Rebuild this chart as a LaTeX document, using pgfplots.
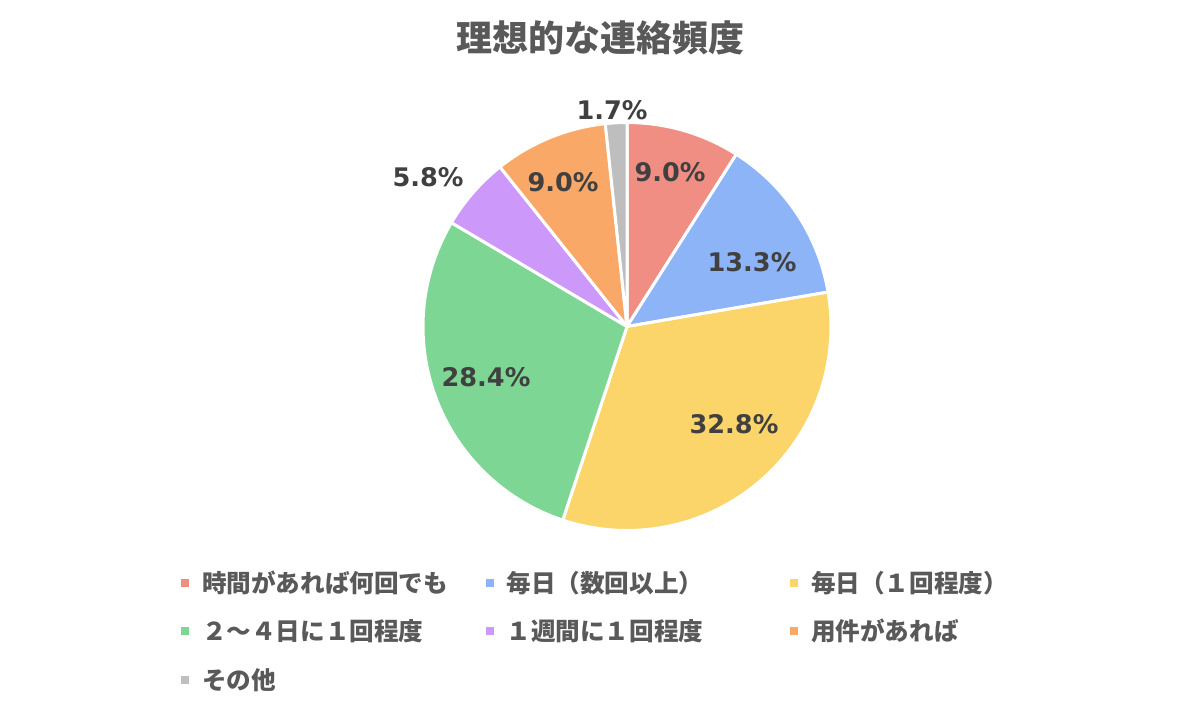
\documentclass[border=0pt]{standalone}
\usepackage{fontspec}
\usepackage{pgfplots}
\usepackage{pgfplotstable}
\pgfplotsset{compat=1.18}
\newfontfamily\jp{Noto Sans CJK JP}
\newfontfamily\numfont{DejaVu Sans}
\definecolor{cA}{RGB}{241,142,132}
\definecolor{cB}{RGB}{141,180,246}
\definecolor{cC}{RGB}{251,213,106}
\definecolor{cD}{RGB}{125,214,148}
\definecolor{cE}{RGB}{204,153,250}
\definecolor{cF}{RGB}{249,168,104}
\definecolor{cG}{RGB}{190,190,190}
\definecolor{titlegrey}{RGB}{89,89,89}
\definecolor{labgrey}{RGB}{64,64,64}
% share of each answer (%), clockwise from 12 o'clock
\pgfplotstableread{
idx value
1 9.0
2 13.3
3 32.8
4 28.4
5 5.8
6 9.0
7 1.7
}\piedata
\begin{document}
\begin{tikzpicture}
\useasboundingbox (0,0) rectangle (600pt,360pt);
\begin{axis}[
  at={(0,0)}, anchor=south west,
  scale only axis, width=600pt, height=360pt,
  xmin=0, xmax=1200, ymin=0, ymax=720, y dir=reverse,
  hide axis, clip=false,
  title={理想的な連絡頻度},
  title style={at={(0.5,0.9306)}, anchor=center, font=\jp\bfseries\fontsize{18}{20}\selectfont, text=titlegrey},
  legend image code/.code={\path[#1, draw=none] (0pt,-2pt) rectangle (4pt,2pt);},
  legend cell align=left,
  legend columns=3,
  legend style={at={(axis cs:181,571)}, anchor=north west, draw=none, fill=none,
    inner sep=0pt, outer sep=0pt, row sep=12.75pt,
    font=\jp\bfseries\fontsize{12.3}{14}\selectfont, text=titlegrey,
    /tikz/every odd column/.append style={column sep=6.5pt},
    nodes={text width=141.75pt, align=left, inner xsep=0pt, inner ysep=0pt, text height=10.5pt, text depth=1pt, anchor=west}},
  every axis plot/.append style={draw=white, line width=1.5pt, line join=round, samples=60, variable=\t},
]
\addplot[fill=cA, domain={90-3.6*(9.0)}:{90}] ({627+204*cos(t)},{326.5-204*sin(t)}) -- (axis cs:627,326.5) -- cycle;
\addlegendentry{時間があれば何回でも}
\addplot[fill=cB, domain={90-3.6*(9.0+13.3)}:{90-3.6*(9.0)}] ({627+204*cos(t)},{326.5-204*sin(t)}) -- (axis cs:627,326.5) -- cycle;
\addlegendentry{毎日（数回以上）}
\addplot[fill=cC, domain={90-3.6*(9.0+13.3+32.8)}:{90-3.6*(9.0+13.3)}] ({627+204*cos(t)},{326.5-204*sin(t)}) -- (axis cs:627,326.5) -- cycle;
\addlegendentry{毎日（１回程度）}
\addplot[fill=cD, domain={90-3.6*(9.0+13.3+32.8+28.4)}:{90-3.6*(9.0+13.3+32.8)}] ({627+204*cos(t)},{326.5-204*sin(t)}) -- (axis cs:627,326.5) -- cycle;
\addlegendentry{２～４日に１回程度}
\addplot[fill=cE, domain={90-3.6*(9.0+13.3+32.8+28.4+5.8)}:{90-3.6*(9.0+13.3+32.8+28.4)}] ({627+204*cos(t)},{326.5-204*sin(t)}) -- (axis cs:627,326.5) -- cycle;
\addlegendentry{１週間に１回程度}
\addplot[fill=cF, domain={90-3.6*(9.0+13.3+32.8+28.4+5.8+9.0)}:{90-3.6*(9.0+13.3+32.8+28.4+5.8)}] ({627+204*cos(t)},{326.5-204*sin(t)}) -- (axis cs:627,326.5) -- cycle;
\addlegendentry{用件があれば}
\addplot[fill=cG, domain={90-3.6*(9.0+13.3+32.8+28.4+5.8+9.0+1.7)}:{90-3.6*(9.0+13.3+32.8+28.4+5.8+9.0)}] ({627+204*cos(t)},{326.5-204*sin(t)}) -- (axis cs:627,326.5) -- cycle;
\addlegendentry{その他}
\begin{scope}[every node/.style={font=\numfont\bfseries\fontsize{12.8}{14}\selectfont, text=labgrey, inner sep=0pt}]
\node at (axis cs:670,172) {9.0\%};
\node at (axis cs:752,262) {13.3\%};
\node at (axis cs:734,424) {32.8\%};
\node at (axis cs:486,377) {28.4\%};
\node at (axis cs:428,177) {5.8\%};
\node at (axis cs:563,182) {9.0\%};
\node at (axis cs:612,110) {1.7\%};
\end{scope}
\end{axis}
\end{tikzpicture}
\end{document}
